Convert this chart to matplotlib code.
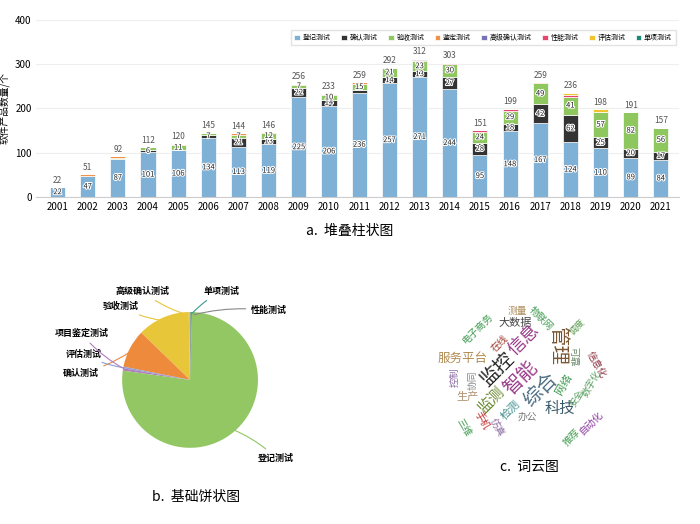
import numpy as np
import matplotlib
matplotlib.use("Agg")
import matplotlib.pyplot as plt
import matplotlib.patheffects as pe

plt.rcParams['font.family'] = ['Noto Sans CJK SC', 'DejaVu Sans']

years = [str(y) for y in range(2001, 2022)]
categories = ['登记测试', '确认测试', '验收测试', '鉴定测试', '高级确认测试', '性能测试', '评估测试', '单项测试']
colors = ['#7fb0d6', '#333333', '#8fc75f', '#f0914a', '#7672b5', '#e6456e', '#f0c430', '#1a8a74']

reg = [22, 47, 87, 101, 106, 134, 113, 119, 225, 206, 236, 257, 271, 244, 95, 148, 167, 124, 110, 89, 84]
conf = [0, 0, 0, 6, 0, 7, 21, 13, 22, 14, 5, 14, 13, 27, 28, 18, 42, 62, 25, 20, 17]
acc = [0, 0, 2, 5, 11, 4, 7, 12, 7, 10, 15, 21, 23, 30, 24, 29, 49, 41, 57, 82, 56]
ident = [0, 4, 3, 0, 3, 0, 3, 2, 2, 3, 3, 0, 2, 0, 0, 0, 1, 0, 0, 0, 0]
adv = [0, 0, 0, 0, 0, 0, 0, 0, 0, 0, 0, 0, 3, 0, 0, 0, 0, 0, 0, 0, 0]
perf = [0, 0, 0, 0, 0, 0, 0, 0, 0, 0, 0, 0, 0, 2, 4, 4, 0, 4, 0, 0, 0]
evalt = [0, 0, 0, 0, 0, 0, 0, 0, 0, 0, 0, 0, 0, 0, 0, 0, 0, 5, 6, 0, 0]
single = [0] * 21
totals = [22, 51, 92, 112, 120, 145, 144, 146, 256, 233, 259, 292, 312, 303, 151, 199, 259, 236, 198, 191, 157]

# pie: share of each test type
pie_labels = ['高级确认测试', '验收测试', '确认测试', '评估测试', '项目鉴定测试', '登记测试', '性能测试', '单项测试']
pie_values = [12, 485, 354, 15, 22, 2985, 14, 4]
pie_colors = ['#e8c63a', '#e8c63a', '#ee8a3c', '#8e9fd0', '#b07cc0', '#92c764', '#888888', '#3a9a8a']

words = ['测量', '物联网', '电子商务', '大数据', '调度', '在线', '信息', '管理', '服务平台', '监控', '智能',
         '信息化', '可靠', '控制', '协同', '综合', '网络', '数字化', '生产', '监测', '安全', '检测', '科技',
         '办公', '三维', '手机', '仿真', '推荐', '自动化']
word_x = [517, 541, 478, 515, 578, 500, 524, 558, 463, 497, 521, 597, 573, 455, 472, 541, 564, 591, 468, 491,
          577, 511, 560, 527, 464, 482, 497, 572, 591]
word_y = [311, 318, 328, 323, 327, 343, 340, 346, 358, 370, 378, 365, 357, 377, 380, 390, 384, 383, 397, 400,
          398, 410, 408, 417, 427, 420, 427, 437, 423]
word_size = [7, 7, 7, 8, 6.5, 7, 13, 14, 9, 14, 14, 7, 7, 7, 7, 14, 8, 7, 8, 11, 6.5, 8, 11, 7, 7, 7, 7, 7, 7]
word_rot = [0, -45, 45, 0, 45, 45, 45, -90, 0, 45, 45, -60, -90, 90, 90, 45, 60, 60, 0, 45, 60, 45, 0, 0, -60,
            -60, -60, 45, 45]
word_col = ['#b09060', '#3f9a50', '#3f9a50', '#444444', '#5a9a50', '#a03c30', '#9a3a8a', '#7a5530',
            '#b08a50', '#222222', '#9a3a8a', '#8a3040', '#6a8a6a', '#8a6aa0', '#888888', '#4a6a80', '#3f9a50',
            '#5aa060', '#b09070', '#6a8a30', '#5aa060', '#3a8a8a', '#3a5a6a', '#777777', '#3f9a50',
            '#c03030', '#8a6aa0', '#3f9a50', '#8a3aa0']

fig = plt.figure(figsize=(7, 5.24), dpi=100)

# a. stacked bars
ax = fig.add_axes([0.052, 0.624, 0.918, 0.338])
series = [reg, conf, acc, ident, adv, perf, evalt, single]
x = np.arange(len(years))
bottom = np.zeros(len(years))
stroke = [pe.withStroke(linewidth=1.5, foreground='white')]
for i, (vals, name) in enumerate(zip(series, categories)):
    vals = np.array(vals)
    ax.bar(x, vals, 0.5, bottom=bottom, color=colors[i], label=name, edgecolor='white', linewidth=0.5)
    if i < 3:
        for xi, b, v in zip(x, bottom, vals):
            if v >= 6:
                ax.text(xi, b + v / 2, str(v), ha='center', va='center', fontsize=5.5,
                        color='#222222', path_effects=stroke)
    bottom += vals
for xi, t in zip(x, totals):
    ax.text(xi, t + 6, str(t), ha='center', va='bottom', fontsize=6, color='#555555')
ax.set_xlim(-0.7, len(years) - 0.4)
ax.set_ylim(0, 400)
ax.set_yticks([0, 100, 200, 300, 400])
ax.set_xticks(x)
ax.set_xticklabels(years, fontsize=7)
ax.tick_params(axis='y', labelsize=7, length=0)
ax.tick_params(axis='x', length=0)
ax.grid(axis='y', color='#eeeeee', linewidth=0.8)
ax.set_axisbelow(True)
for s in ['top', 'right', 'left']:
    ax.spines[s].set_visible(False)
ax.spines['bottom'].set_color('#cccccc')
ax.set_ylabel('软件产品数量/个', fontsize=7)
leg = ax.legend(ncol=8, fontsize=5, loc='upper right', bbox_to_anchor=(1.0, 0.96), handlelength=0.8,
                handletextpad=0.4, columnspacing=1.5, frameon=True, fancybox=False, borderpad=0.5)
leg.get_frame().set_edgecolor('#dddddd')
fig.text(0.5, 0.56, 'a.  堆叠柱状图', ha='center', va='center', fontsize=10)

# b. pie
axp = fig.add_axes([0.15, 0.113, 0.243, 0.324])
wedges, _ = axp.pie(pie_values, colors=pie_colors, startangle=90, counterclock=True,
                    wedgeprops=dict(linewidth=0))
label_pos = {'高级确认测试': (-0.3, 1.3), '验收测试': (-0.75, 1.08), '项目鉴定测试': (-1.2, 0.68),
             '评估测试': (-1.3, 0.38), '确认测试': (-1.35, 0.1), '登记测试': (1.0, -1.15),
             '性能测试': (0.9, 1.02), '单项测试': (0.2, 1.3)}
for w, name in zip(wedges, pie_labels):
    ang = np.deg2rad((w.theta1 + w.theta2) / 2)
    px, py = np.cos(ang), np.sin(ang)
    tx, ty = label_pos[name]
    axp.annotate(name, xy=(px * 0.95, py * 0.95), xytext=(tx, ty), fontsize=6.5, fontweight='bold',
                 ha='left' if tx > 0 else 'right', va='center',
                 arrowprops=dict(arrowstyle='-', color=w.get_facecolor(), lw=0.8,
                                 connectionstyle='arc3,rad=0.1'))
axp.set_aspect('equal')
fig.text(0.28, 0.052, 'b.  基础饼状图', ha='center', va='center', fontsize=10)

# c. word cloud
for wd, wx, wy, sz, rt, c in zip(words, word_x, word_y, word_size, word_rot, word_col):
    fig.text(wx / 700, 1 - wy / 524, wd, fontsize=sz, rotation=rt, color=c, ha='center', va='center',
             rotation_mode='anchor')
fig.text(0.757, 0.108, 'c.  词云图', ha='center', va='center', fontsize=10)

fig.savefig('out.png', dpi=100, facecolor='white')
